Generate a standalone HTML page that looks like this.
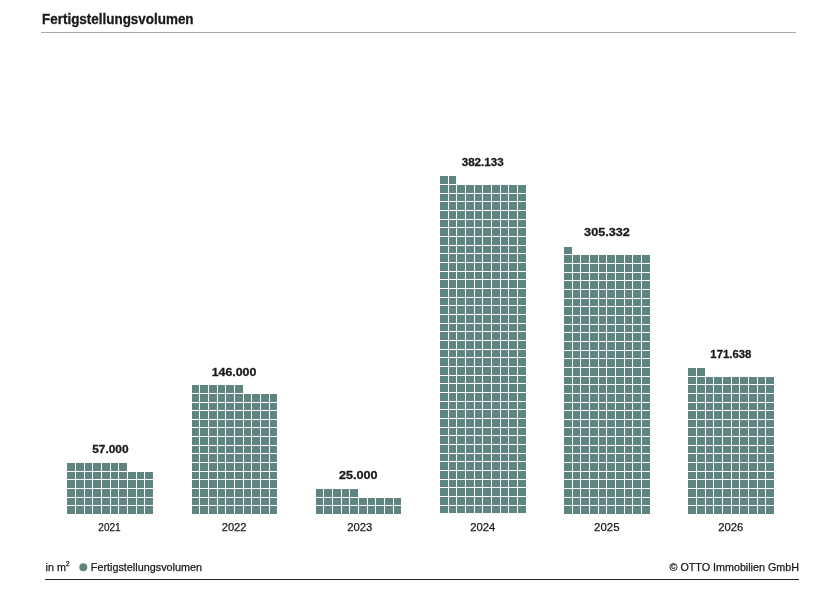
<!DOCTYPE html>
<html lang="de"><head><meta charset="utf-8"><title>Fertigstellungsvolumen</title>
<style>
html,body{margin:0;padding:0;background:#fff}
body{width:832px;height:610px;overflow:hidden}
svg{display:block}
text{font-family:"Liberation Sans",Arial,Helvetica,sans-serif;fill:#1a1a1a;stroke:#1a1a1a;stroke-width:.25px;stroke-linejoin:round}
.b{font-weight:bold;stroke-width:.3px}
.c rect{fill:#5f8580}
</style></head><body>
<svg width="832" height="610" viewBox="0 0 832 610">
<rect width="832" height="610" fill="#fff"/>
<text id="title" class="b" x="42.02" y="23.9" font-size="13.8" textLength="151.55" lengthAdjust="spacingAndGlyphs">Fertigstellungsvolumen</text>
<rect x="41" y="32" width="755" height="1" fill="#a9aaae"/>
<g class="c" shape-rendering="crispEdges">
<rect x="67" y="506" width="8" height="8"/><rect x="76" y="506" width="8" height="8"/><rect x="85" y="506" width="7" height="8"/><rect x="93" y="506" width="8" height="8"/><rect x="102" y="506" width="8" height="8"/><rect x="111" y="506" width="7" height="8"/><rect x="119" y="506" width="8" height="8"/><rect x="128" y="506" width="8" height="8"/><rect x="137" y="506" width="7" height="8"/><rect x="145" y="506" width="8" height="8"/>
<rect x="67" y="498" width="8" height="7"/><rect x="76" y="498" width="8" height="7"/><rect x="85" y="498" width="7" height="7"/><rect x="93" y="498" width="8" height="7"/><rect x="102" y="498" width="8" height="7"/><rect x="111" y="498" width="7" height="7"/><rect x="119" y="498" width="8" height="7"/><rect x="128" y="498" width="8" height="7"/><rect x="137" y="498" width="7" height="7"/><rect x="145" y="498" width="8" height="7"/>
<rect x="67" y="489" width="8" height="8"/><rect x="76" y="489" width="8" height="8"/><rect x="85" y="489" width="7" height="8"/><rect x="93" y="489" width="8" height="8"/><rect x="102" y="489" width="8" height="8"/><rect x="111" y="489" width="7" height="8"/><rect x="119" y="489" width="8" height="8"/><rect x="128" y="489" width="8" height="8"/><rect x="137" y="489" width="7" height="8"/><rect x="145" y="489" width="8" height="8"/>
<rect x="67" y="480" width="8" height="8"/><rect x="76" y="480" width="8" height="8"/><rect x="85" y="480" width="7" height="8"/><rect x="93" y="480" width="8" height="8"/><rect x="102" y="480" width="8" height="8"/><rect x="111" y="480" width="7" height="8"/><rect x="119" y="480" width="8" height="8"/><rect x="128" y="480" width="8" height="8"/><rect x="137" y="480" width="7" height="8"/><rect x="145" y="480" width="8" height="8"/>
<rect x="67" y="472" width="8" height="7"/><rect x="76" y="472" width="8" height="7"/><rect x="85" y="472" width="7" height="7"/><rect x="93" y="472" width="8" height="7"/><rect x="102" y="472" width="8" height="7"/><rect x="111" y="472" width="7" height="7"/><rect x="119" y="472" width="8" height="7"/><rect x="128" y="472" width="8" height="7"/><rect x="137" y="472" width="7" height="7"/><rect x="145" y="472" width="8" height="7"/>
<rect x="67" y="463" width="8" height="8"/><rect x="76" y="463" width="8" height="8"/><rect x="85" y="463" width="7" height="8"/><rect x="93" y="463" width="8" height="8"/><rect x="102" y="463" width="8" height="8"/><rect x="111" y="463" width="7" height="8"/><rect x="119" y="463" width="8" height="8"/>
<rect x="192" y="506" width="7" height="8"/><rect x="200" y="506" width="8" height="8"/><rect x="209" y="506" width="8" height="8"/><rect x="218" y="506" width="7" height="8"/><rect x="226" y="506" width="8" height="8"/><rect x="235" y="506" width="8" height="8"/><rect x="244" y="506" width="7" height="8"/><rect x="252" y="506" width="8" height="8"/><rect x="261" y="506" width="8" height="8"/><rect x="270" y="506" width="7" height="8"/>
<rect x="192" y="498" width="7" height="7"/><rect x="200" y="498" width="8" height="7"/><rect x="209" y="498" width="8" height="7"/><rect x="218" y="498" width="7" height="7"/><rect x="226" y="498" width="8" height="7"/><rect x="235" y="498" width="8" height="7"/><rect x="244" y="498" width="7" height="7"/><rect x="252" y="498" width="8" height="7"/><rect x="261" y="498" width="8" height="7"/><rect x="270" y="498" width="7" height="7"/>
<rect x="192" y="489" width="7" height="8"/><rect x="200" y="489" width="8" height="8"/><rect x="209" y="489" width="8" height="8"/><rect x="218" y="489" width="7" height="8"/><rect x="226" y="489" width="8" height="8"/><rect x="235" y="489" width="8" height="8"/><rect x="244" y="489" width="7" height="8"/><rect x="252" y="489" width="8" height="8"/><rect x="261" y="489" width="8" height="8"/><rect x="270" y="489" width="7" height="8"/>
<rect x="192" y="480" width="7" height="8"/><rect x="200" y="480" width="8" height="8"/><rect x="209" y="480" width="8" height="8"/><rect x="218" y="480" width="7" height="8"/><rect x="226" y="480" width="8" height="8"/><rect x="235" y="480" width="8" height="8"/><rect x="244" y="480" width="7" height="8"/><rect x="252" y="480" width="8" height="8"/><rect x="261" y="480" width="8" height="8"/><rect x="270" y="480" width="7" height="8"/>
<rect x="192" y="472" width="7" height="7"/><rect x="200" y="472" width="8" height="7"/><rect x="209" y="472" width="8" height="7"/><rect x="218" y="472" width="7" height="7"/><rect x="226" y="472" width="8" height="7"/><rect x="235" y="472" width="8" height="7"/><rect x="244" y="472" width="7" height="7"/><rect x="252" y="472" width="8" height="7"/><rect x="261" y="472" width="8" height="7"/><rect x="270" y="472" width="7" height="7"/>
<rect x="192" y="463" width="7" height="8"/><rect x="200" y="463" width="8" height="8"/><rect x="209" y="463" width="8" height="8"/><rect x="218" y="463" width="7" height="8"/><rect x="226" y="463" width="8" height="8"/><rect x="235" y="463" width="8" height="8"/><rect x="244" y="463" width="7" height="8"/><rect x="252" y="463" width="8" height="8"/><rect x="261" y="463" width="8" height="8"/><rect x="270" y="463" width="7" height="8"/>
<rect x="192" y="454" width="7" height="8"/><rect x="200" y="454" width="8" height="8"/><rect x="209" y="454" width="8" height="8"/><rect x="218" y="454" width="7" height="8"/><rect x="226" y="454" width="8" height="8"/><rect x="235" y="454" width="8" height="8"/><rect x="244" y="454" width="7" height="8"/><rect x="252" y="454" width="8" height="8"/><rect x="261" y="454" width="8" height="8"/><rect x="270" y="454" width="7" height="8"/>
<rect x="192" y="446" width="7" height="7"/><rect x="200" y="446" width="8" height="7"/><rect x="209" y="446" width="8" height="7"/><rect x="218" y="446" width="7" height="7"/><rect x="226" y="446" width="8" height="7"/><rect x="235" y="446" width="8" height="7"/><rect x="244" y="446" width="7" height="7"/><rect x="252" y="446" width="8" height="7"/><rect x="261" y="446" width="8" height="7"/><rect x="270" y="446" width="7" height="7"/>
<rect x="192" y="437" width="7" height="8"/><rect x="200" y="437" width="8" height="8"/><rect x="209" y="437" width="8" height="8"/><rect x="218" y="437" width="7" height="8"/><rect x="226" y="437" width="8" height="8"/><rect x="235" y="437" width="8" height="8"/><rect x="244" y="437" width="7" height="8"/><rect x="252" y="437" width="8" height="8"/><rect x="261" y="437" width="8" height="8"/><rect x="270" y="437" width="7" height="8"/>
<rect x="192" y="428" width="7" height="8"/><rect x="200" y="428" width="8" height="8"/><rect x="209" y="428" width="8" height="8"/><rect x="218" y="428" width="7" height="8"/><rect x="226" y="428" width="8" height="8"/><rect x="235" y="428" width="8" height="8"/><rect x="244" y="428" width="7" height="8"/><rect x="252" y="428" width="8" height="8"/><rect x="261" y="428" width="8" height="8"/><rect x="270" y="428" width="7" height="8"/>
<rect x="192" y="420" width="7" height="7"/><rect x="200" y="420" width="8" height="7"/><rect x="209" y="420" width="8" height="7"/><rect x="218" y="420" width="7" height="7"/><rect x="226" y="420" width="8" height="7"/><rect x="235" y="420" width="8" height="7"/><rect x="244" y="420" width="7" height="7"/><rect x="252" y="420" width="8" height="7"/><rect x="261" y="420" width="8" height="7"/><rect x="270" y="420" width="7" height="7"/>
<rect x="192" y="411" width="7" height="8"/><rect x="200" y="411" width="8" height="8"/><rect x="209" y="411" width="8" height="8"/><rect x="218" y="411" width="7" height="8"/><rect x="226" y="411" width="8" height="8"/><rect x="235" y="411" width="8" height="8"/><rect x="244" y="411" width="7" height="8"/><rect x="252" y="411" width="8" height="8"/><rect x="261" y="411" width="8" height="8"/><rect x="270" y="411" width="7" height="8"/>
<rect x="192" y="403" width="7" height="7"/><rect x="200" y="403" width="8" height="7"/><rect x="209" y="403" width="8" height="7"/><rect x="218" y="403" width="7" height="7"/><rect x="226" y="403" width="8" height="7"/><rect x="235" y="403" width="8" height="7"/><rect x="244" y="403" width="7" height="7"/><rect x="252" y="403" width="8" height="7"/><rect x="261" y="403" width="8" height="7"/><rect x="270" y="403" width="7" height="7"/>
<rect x="192" y="394" width="7" height="8"/><rect x="200" y="394" width="8" height="8"/><rect x="209" y="394" width="8" height="8"/><rect x="218" y="394" width="7" height="8"/><rect x="226" y="394" width="8" height="8"/><rect x="235" y="394" width="8" height="8"/><rect x="244" y="394" width="7" height="8"/><rect x="252" y="394" width="8" height="8"/><rect x="261" y="394" width="8" height="8"/><rect x="270" y="394" width="7" height="8"/>
<rect x="192" y="385" width="7" height="8"/><rect x="200" y="385" width="8" height="8"/><rect x="209" y="385" width="8" height="8"/><rect x="218" y="385" width="7" height="8"/><rect x="226" y="385" width="8" height="8"/><rect x="235" y="385" width="8" height="8"/>
<rect x="316" y="506" width="7" height="8"/><rect x="324" y="506" width="8" height="8"/><rect x="333" y="506" width="8" height="8"/><rect x="342" y="506" width="7" height="8"/><rect x="350" y="506" width="8" height="8"/><rect x="359" y="506" width="8" height="8"/><rect x="368" y="506" width="7" height="8"/><rect x="376" y="506" width="8" height="8"/><rect x="385" y="506" width="8" height="8"/><rect x="394" y="506" width="7" height="8"/>
<rect x="316" y="498" width="7" height="7"/><rect x="324" y="498" width="8" height="7"/><rect x="333" y="498" width="8" height="7"/><rect x="342" y="498" width="7" height="7"/><rect x="350" y="498" width="8" height="7"/><rect x="359" y="498" width="8" height="7"/><rect x="368" y="498" width="7" height="7"/><rect x="376" y="498" width="8" height="7"/><rect x="385" y="498" width="8" height="7"/><rect x="394" y="498" width="7" height="7"/>
<rect x="316" y="489" width="7" height="8"/><rect x="324" y="489" width="8" height="8"/><rect x="333" y="489" width="8" height="8"/><rect x="342" y="489" width="7" height="8"/><rect x="350" y="489" width="8" height="8"/>
<rect x="440" y="506" width="8" height="7"/><rect x="449" y="506" width="7" height="7"/><rect x="457" y="506" width="8" height="7"/><rect x="466" y="506" width="8" height="7"/><rect x="475" y="506" width="7" height="7"/><rect x="483" y="506" width="8" height="7"/><rect x="492" y="506" width="8" height="7"/><rect x="501" y="506" width="7" height="7"/><rect x="509" y="506" width="8" height="7"/><rect x="518" y="506" width="8" height="7"/>
<rect x="440" y="497" width="8" height="8"/><rect x="449" y="497" width="7" height="8"/><rect x="457" y="497" width="8" height="8"/><rect x="466" y="497" width="8" height="8"/><rect x="475" y="497" width="7" height="8"/><rect x="483" y="497" width="8" height="8"/><rect x="492" y="497" width="8" height="8"/><rect x="501" y="497" width="7" height="8"/><rect x="509" y="497" width="8" height="8"/><rect x="518" y="497" width="8" height="8"/>
<rect x="440" y="488" width="8" height="8"/><rect x="449" y="488" width="7" height="8"/><rect x="457" y="488" width="8" height="8"/><rect x="466" y="488" width="8" height="8"/><rect x="475" y="488" width="7" height="8"/><rect x="483" y="488" width="8" height="8"/><rect x="492" y="488" width="8" height="8"/><rect x="501" y="488" width="7" height="8"/><rect x="509" y="488" width="8" height="8"/><rect x="518" y="488" width="8" height="8"/>
<rect x="440" y="480" width="8" height="7"/><rect x="449" y="480" width="7" height="7"/><rect x="457" y="480" width="8" height="7"/><rect x="466" y="480" width="8" height="7"/><rect x="475" y="480" width="7" height="7"/><rect x="483" y="480" width="8" height="7"/><rect x="492" y="480" width="8" height="7"/><rect x="501" y="480" width="7" height="7"/><rect x="509" y="480" width="8" height="7"/><rect x="518" y="480" width="8" height="7"/>
<rect x="440" y="471" width="8" height="8"/><rect x="449" y="471" width="7" height="8"/><rect x="457" y="471" width="8" height="8"/><rect x="466" y="471" width="8" height="8"/><rect x="475" y="471" width="7" height="8"/><rect x="483" y="471" width="8" height="8"/><rect x="492" y="471" width="8" height="8"/><rect x="501" y="471" width="7" height="8"/><rect x="509" y="471" width="8" height="8"/><rect x="518" y="471" width="8" height="8"/>
<rect x="440" y="462" width="8" height="8"/><rect x="449" y="462" width="7" height="8"/><rect x="457" y="462" width="8" height="8"/><rect x="466" y="462" width="8" height="8"/><rect x="475" y="462" width="7" height="8"/><rect x="483" y="462" width="8" height="8"/><rect x="492" y="462" width="8" height="8"/><rect x="501" y="462" width="7" height="8"/><rect x="509" y="462" width="8" height="8"/><rect x="518" y="462" width="8" height="8"/>
<rect x="440" y="454" width="8" height="7"/><rect x="449" y="454" width="7" height="7"/><rect x="457" y="454" width="8" height="7"/><rect x="466" y="454" width="8" height="7"/><rect x="475" y="454" width="7" height="7"/><rect x="483" y="454" width="8" height="7"/><rect x="492" y="454" width="8" height="7"/><rect x="501" y="454" width="7" height="7"/><rect x="509" y="454" width="8" height="7"/><rect x="518" y="454" width="8" height="7"/>
<rect x="440" y="445" width="8" height="8"/><rect x="449" y="445" width="7" height="8"/><rect x="457" y="445" width="8" height="8"/><rect x="466" y="445" width="8" height="8"/><rect x="475" y="445" width="7" height="8"/><rect x="483" y="445" width="8" height="8"/><rect x="492" y="445" width="8" height="8"/><rect x="501" y="445" width="7" height="8"/><rect x="509" y="445" width="8" height="8"/><rect x="518" y="445" width="8" height="8"/>
<rect x="440" y="436" width="8" height="8"/><rect x="449" y="436" width="7" height="8"/><rect x="457" y="436" width="8" height="8"/><rect x="466" y="436" width="8" height="8"/><rect x="475" y="436" width="7" height="8"/><rect x="483" y="436" width="8" height="8"/><rect x="492" y="436" width="8" height="8"/><rect x="501" y="436" width="7" height="8"/><rect x="509" y="436" width="8" height="8"/><rect x="518" y="436" width="8" height="8"/>
<rect x="440" y="428" width="8" height="7"/><rect x="449" y="428" width="7" height="7"/><rect x="457" y="428" width="8" height="7"/><rect x="466" y="428" width="8" height="7"/><rect x="475" y="428" width="7" height="7"/><rect x="483" y="428" width="8" height="7"/><rect x="492" y="428" width="8" height="7"/><rect x="501" y="428" width="7" height="7"/><rect x="509" y="428" width="8" height="7"/><rect x="518" y="428" width="8" height="7"/>
<rect x="440" y="419" width="8" height="8"/><rect x="449" y="419" width="7" height="8"/><rect x="457" y="419" width="8" height="8"/><rect x="466" y="419" width="8" height="8"/><rect x="475" y="419" width="7" height="8"/><rect x="483" y="419" width="8" height="8"/><rect x="492" y="419" width="8" height="8"/><rect x="501" y="419" width="7" height="8"/><rect x="509" y="419" width="8" height="8"/><rect x="518" y="419" width="8" height="8"/>
<rect x="440" y="410" width="8" height="8"/><rect x="449" y="410" width="7" height="8"/><rect x="457" y="410" width="8" height="8"/><rect x="466" y="410" width="8" height="8"/><rect x="475" y="410" width="7" height="8"/><rect x="483" y="410" width="8" height="8"/><rect x="492" y="410" width="8" height="8"/><rect x="501" y="410" width="7" height="8"/><rect x="509" y="410" width="8" height="8"/><rect x="518" y="410" width="8" height="8"/>
<rect x="440" y="402" width="8" height="7"/><rect x="449" y="402" width="7" height="7"/><rect x="457" y="402" width="8" height="7"/><rect x="466" y="402" width="8" height="7"/><rect x="475" y="402" width="7" height="7"/><rect x="483" y="402" width="8" height="7"/><rect x="492" y="402" width="8" height="7"/><rect x="501" y="402" width="7" height="7"/><rect x="509" y="402" width="8" height="7"/><rect x="518" y="402" width="8" height="7"/>
<rect x="440" y="393" width="8" height="8"/><rect x="449" y="393" width="7" height="8"/><rect x="457" y="393" width="8" height="8"/><rect x="466" y="393" width="8" height="8"/><rect x="475" y="393" width="7" height="8"/><rect x="483" y="393" width="8" height="8"/><rect x="492" y="393" width="8" height="8"/><rect x="501" y="393" width="7" height="8"/><rect x="509" y="393" width="8" height="8"/><rect x="518" y="393" width="8" height="8"/>
<rect x="440" y="384" width="8" height="8"/><rect x="449" y="384" width="7" height="8"/><rect x="457" y="384" width="8" height="8"/><rect x="466" y="384" width="8" height="8"/><rect x="475" y="384" width="7" height="8"/><rect x="483" y="384" width="8" height="8"/><rect x="492" y="384" width="8" height="8"/><rect x="501" y="384" width="7" height="8"/><rect x="509" y="384" width="8" height="8"/><rect x="518" y="384" width="8" height="8"/>
<rect x="440" y="376" width="8" height="7"/><rect x="449" y="376" width="7" height="7"/><rect x="457" y="376" width="8" height="7"/><rect x="466" y="376" width="8" height="7"/><rect x="475" y="376" width="7" height="7"/><rect x="483" y="376" width="8" height="7"/><rect x="492" y="376" width="8" height="7"/><rect x="501" y="376" width="7" height="7"/><rect x="509" y="376" width="8" height="7"/><rect x="518" y="376" width="8" height="7"/>
<rect x="440" y="367" width="8" height="8"/><rect x="449" y="367" width="7" height="8"/><rect x="457" y="367" width="8" height="8"/><rect x="466" y="367" width="8" height="8"/><rect x="475" y="367" width="7" height="8"/><rect x="483" y="367" width="8" height="8"/><rect x="492" y="367" width="8" height="8"/><rect x="501" y="367" width="7" height="8"/><rect x="509" y="367" width="8" height="8"/><rect x="518" y="367" width="8" height="8"/>
<rect x="440" y="358" width="8" height="8"/><rect x="449" y="358" width="7" height="8"/><rect x="457" y="358" width="8" height="8"/><rect x="466" y="358" width="8" height="8"/><rect x="475" y="358" width="7" height="8"/><rect x="483" y="358" width="8" height="8"/><rect x="492" y="358" width="8" height="8"/><rect x="501" y="358" width="7" height="8"/><rect x="509" y="358" width="8" height="8"/><rect x="518" y="358" width="8" height="8"/>
<rect x="440" y="350" width="8" height="7"/><rect x="449" y="350" width="7" height="7"/><rect x="457" y="350" width="8" height="7"/><rect x="466" y="350" width="8" height="7"/><rect x="475" y="350" width="7" height="7"/><rect x="483" y="350" width="8" height="7"/><rect x="492" y="350" width="8" height="7"/><rect x="501" y="350" width="7" height="7"/><rect x="509" y="350" width="8" height="7"/><rect x="518" y="350" width="8" height="7"/>
<rect x="440" y="341" width="8" height="8"/><rect x="449" y="341" width="7" height="8"/><rect x="457" y="341" width="8" height="8"/><rect x="466" y="341" width="8" height="8"/><rect x="475" y="341" width="7" height="8"/><rect x="483" y="341" width="8" height="8"/><rect x="492" y="341" width="8" height="8"/><rect x="501" y="341" width="7" height="8"/><rect x="509" y="341" width="8" height="8"/><rect x="518" y="341" width="8" height="8"/>
<rect x="440" y="332" width="8" height="8"/><rect x="449" y="332" width="7" height="8"/><rect x="457" y="332" width="8" height="8"/><rect x="466" y="332" width="8" height="8"/><rect x="475" y="332" width="7" height="8"/><rect x="483" y="332" width="8" height="8"/><rect x="492" y="332" width="8" height="8"/><rect x="501" y="332" width="7" height="8"/><rect x="509" y="332" width="8" height="8"/><rect x="518" y="332" width="8" height="8"/>
<rect x="440" y="324" width="8" height="7"/><rect x="449" y="324" width="7" height="7"/><rect x="457" y="324" width="8" height="7"/><rect x="466" y="324" width="8" height="7"/><rect x="475" y="324" width="7" height="7"/><rect x="483" y="324" width="8" height="7"/><rect x="492" y="324" width="8" height="7"/><rect x="501" y="324" width="7" height="7"/><rect x="509" y="324" width="8" height="7"/><rect x="518" y="324" width="8" height="7"/>
<rect x="440" y="315" width="8" height="8"/><rect x="449" y="315" width="7" height="8"/><rect x="457" y="315" width="8" height="8"/><rect x="466" y="315" width="8" height="8"/><rect x="475" y="315" width="7" height="8"/><rect x="483" y="315" width="8" height="8"/><rect x="492" y="315" width="8" height="8"/><rect x="501" y="315" width="7" height="8"/><rect x="509" y="315" width="8" height="8"/><rect x="518" y="315" width="8" height="8"/>
<rect x="440" y="306" width="8" height="8"/><rect x="449" y="306" width="7" height="8"/><rect x="457" y="306" width="8" height="8"/><rect x="466" y="306" width="8" height="8"/><rect x="475" y="306" width="7" height="8"/><rect x="483" y="306" width="8" height="8"/><rect x="492" y="306" width="8" height="8"/><rect x="501" y="306" width="7" height="8"/><rect x="509" y="306" width="8" height="8"/><rect x="518" y="306" width="8" height="8"/>
<rect x="440" y="298" width="8" height="7"/><rect x="449" y="298" width="7" height="7"/><rect x="457" y="298" width="8" height="7"/><rect x="466" y="298" width="8" height="7"/><rect x="475" y="298" width="7" height="7"/><rect x="483" y="298" width="8" height="7"/><rect x="492" y="298" width="8" height="7"/><rect x="501" y="298" width="7" height="7"/><rect x="509" y="298" width="8" height="7"/><rect x="518" y="298" width="8" height="7"/>
<rect x="440" y="289" width="8" height="8"/><rect x="449" y="289" width="7" height="8"/><rect x="457" y="289" width="8" height="8"/><rect x="466" y="289" width="8" height="8"/><rect x="475" y="289" width="7" height="8"/><rect x="483" y="289" width="8" height="8"/><rect x="492" y="289" width="8" height="8"/><rect x="501" y="289" width="7" height="8"/><rect x="509" y="289" width="8" height="8"/><rect x="518" y="289" width="8" height="8"/>
<rect x="440" y="280" width="8" height="8"/><rect x="449" y="280" width="7" height="8"/><rect x="457" y="280" width="8" height="8"/><rect x="466" y="280" width="8" height="8"/><rect x="475" y="280" width="7" height="8"/><rect x="483" y="280" width="8" height="8"/><rect x="492" y="280" width="8" height="8"/><rect x="501" y="280" width="7" height="8"/><rect x="509" y="280" width="8" height="8"/><rect x="518" y="280" width="8" height="8"/>
<rect x="440" y="272" width="8" height="7"/><rect x="449" y="272" width="7" height="7"/><rect x="457" y="272" width="8" height="7"/><rect x="466" y="272" width="8" height="7"/><rect x="475" y="272" width="7" height="7"/><rect x="483" y="272" width="8" height="7"/><rect x="492" y="272" width="8" height="7"/><rect x="501" y="272" width="7" height="7"/><rect x="509" y="272" width="8" height="7"/><rect x="518" y="272" width="8" height="7"/>
<rect x="440" y="263" width="8" height="8"/><rect x="449" y="263" width="7" height="8"/><rect x="457" y="263" width="8" height="8"/><rect x="466" y="263" width="8" height="8"/><rect x="475" y="263" width="7" height="8"/><rect x="483" y="263" width="8" height="8"/><rect x="492" y="263" width="8" height="8"/><rect x="501" y="263" width="7" height="8"/><rect x="509" y="263" width="8" height="8"/><rect x="518" y="263" width="8" height="8"/>
<rect x="440" y="254" width="8" height="8"/><rect x="449" y="254" width="7" height="8"/><rect x="457" y="254" width="8" height="8"/><rect x="466" y="254" width="8" height="8"/><rect x="475" y="254" width="7" height="8"/><rect x="483" y="254" width="8" height="8"/><rect x="492" y="254" width="8" height="8"/><rect x="501" y="254" width="7" height="8"/><rect x="509" y="254" width="8" height="8"/><rect x="518" y="254" width="8" height="8"/>
<rect x="440" y="246" width="8" height="7"/><rect x="449" y="246" width="7" height="7"/><rect x="457" y="246" width="8" height="7"/><rect x="466" y="246" width="8" height="7"/><rect x="475" y="246" width="7" height="7"/><rect x="483" y="246" width="8" height="7"/><rect x="492" y="246" width="8" height="7"/><rect x="501" y="246" width="7" height="7"/><rect x="509" y="246" width="8" height="7"/><rect x="518" y="246" width="8" height="7"/>
<rect x="440" y="237" width="8" height="8"/><rect x="449" y="237" width="7" height="8"/><rect x="457" y="237" width="8" height="8"/><rect x="466" y="237" width="8" height="8"/><rect x="475" y="237" width="7" height="8"/><rect x="483" y="237" width="8" height="8"/><rect x="492" y="237" width="8" height="8"/><rect x="501" y="237" width="7" height="8"/><rect x="509" y="237" width="8" height="8"/><rect x="518" y="237" width="8" height="8"/>
<rect x="440" y="228" width="8" height="8"/><rect x="449" y="228" width="7" height="8"/><rect x="457" y="228" width="8" height="8"/><rect x="466" y="228" width="8" height="8"/><rect x="475" y="228" width="7" height="8"/><rect x="483" y="228" width="8" height="8"/><rect x="492" y="228" width="8" height="8"/><rect x="501" y="228" width="7" height="8"/><rect x="509" y="228" width="8" height="8"/><rect x="518" y="228" width="8" height="8"/>
<rect x="440" y="220" width="8" height="7"/><rect x="449" y="220" width="7" height="7"/><rect x="457" y="220" width="8" height="7"/><rect x="466" y="220" width="8" height="7"/><rect x="475" y="220" width="7" height="7"/><rect x="483" y="220" width="8" height="7"/><rect x="492" y="220" width="8" height="7"/><rect x="501" y="220" width="7" height="7"/><rect x="509" y="220" width="8" height="7"/><rect x="518" y="220" width="8" height="7"/>
<rect x="440" y="211" width="8" height="8"/><rect x="449" y="211" width="7" height="8"/><rect x="457" y="211" width="8" height="8"/><rect x="466" y="211" width="8" height="8"/><rect x="475" y="211" width="7" height="8"/><rect x="483" y="211" width="8" height="8"/><rect x="492" y="211" width="8" height="8"/><rect x="501" y="211" width="7" height="8"/><rect x="509" y="211" width="8" height="8"/><rect x="518" y="211" width="8" height="8"/>
<rect x="440" y="202" width="8" height="8"/><rect x="449" y="202" width="7" height="8"/><rect x="457" y="202" width="8" height="8"/><rect x="466" y="202" width="8" height="8"/><rect x="475" y="202" width="7" height="8"/><rect x="483" y="202" width="8" height="8"/><rect x="492" y="202" width="8" height="8"/><rect x="501" y="202" width="7" height="8"/><rect x="509" y="202" width="8" height="8"/><rect x="518" y="202" width="8" height="8"/>
<rect x="440" y="194" width="8" height="7"/><rect x="449" y="194" width="7" height="7"/><rect x="457" y="194" width="8" height="7"/><rect x="466" y="194" width="8" height="7"/><rect x="475" y="194" width="7" height="7"/><rect x="483" y="194" width="8" height="7"/><rect x="492" y="194" width="8" height="7"/><rect x="501" y="194" width="7" height="7"/><rect x="509" y="194" width="8" height="7"/><rect x="518" y="194" width="8" height="7"/>
<rect x="440" y="185" width="8" height="8"/><rect x="449" y="185" width="7" height="8"/><rect x="457" y="185" width="8" height="8"/><rect x="466" y="185" width="8" height="8"/><rect x="475" y="185" width="7" height="8"/><rect x="483" y="185" width="8" height="8"/><rect x="492" y="185" width="8" height="8"/><rect x="501" y="185" width="7" height="8"/><rect x="509" y="185" width="8" height="8"/><rect x="518" y="185" width="8" height="8"/>
<rect x="440" y="176" width="8" height="8"/><rect x="449" y="176" width="7" height="8"/>
<rect x="564" y="506" width="8" height="8"/><rect x="573" y="506" width="7" height="8"/><rect x="581" y="506" width="8" height="8"/><rect x="590" y="506" width="8" height="8"/><rect x="599" y="506" width="7" height="8"/><rect x="607" y="506" width="8" height="8"/><rect x="616" y="506" width="8" height="8"/><rect x="625" y="506" width="7" height="8"/><rect x="633" y="506" width="8" height="8"/><rect x="642" y="506" width="8" height="8"/>
<rect x="564" y="498" width="8" height="7"/><rect x="573" y="498" width="7" height="7"/><rect x="581" y="498" width="8" height="7"/><rect x="590" y="498" width="8" height="7"/><rect x="599" y="498" width="7" height="7"/><rect x="607" y="498" width="8" height="7"/><rect x="616" y="498" width="8" height="7"/><rect x="625" y="498" width="7" height="7"/><rect x="633" y="498" width="8" height="7"/><rect x="642" y="498" width="8" height="7"/>
<rect x="564" y="489" width="8" height="8"/><rect x="573" y="489" width="7" height="8"/><rect x="581" y="489" width="8" height="8"/><rect x="590" y="489" width="8" height="8"/><rect x="599" y="489" width="7" height="8"/><rect x="607" y="489" width="8" height="8"/><rect x="616" y="489" width="8" height="8"/><rect x="625" y="489" width="7" height="8"/><rect x="633" y="489" width="8" height="8"/><rect x="642" y="489" width="8" height="8"/>
<rect x="564" y="480" width="8" height="8"/><rect x="573" y="480" width="7" height="8"/><rect x="581" y="480" width="8" height="8"/><rect x="590" y="480" width="8" height="8"/><rect x="599" y="480" width="7" height="8"/><rect x="607" y="480" width="8" height="8"/><rect x="616" y="480" width="8" height="8"/><rect x="625" y="480" width="7" height="8"/><rect x="633" y="480" width="8" height="8"/><rect x="642" y="480" width="8" height="8"/>
<rect x="564" y="472" width="8" height="7"/><rect x="573" y="472" width="7" height="7"/><rect x="581" y="472" width="8" height="7"/><rect x="590" y="472" width="8" height="7"/><rect x="599" y="472" width="7" height="7"/><rect x="607" y="472" width="8" height="7"/><rect x="616" y="472" width="8" height="7"/><rect x="625" y="472" width="7" height="7"/><rect x="633" y="472" width="8" height="7"/><rect x="642" y="472" width="8" height="7"/>
<rect x="564" y="463" width="8" height="8"/><rect x="573" y="463" width="7" height="8"/><rect x="581" y="463" width="8" height="8"/><rect x="590" y="463" width="8" height="8"/><rect x="599" y="463" width="7" height="8"/><rect x="607" y="463" width="8" height="8"/><rect x="616" y="463" width="8" height="8"/><rect x="625" y="463" width="7" height="8"/><rect x="633" y="463" width="8" height="8"/><rect x="642" y="463" width="8" height="8"/>
<rect x="564" y="454" width="8" height="8"/><rect x="573" y="454" width="7" height="8"/><rect x="581" y="454" width="8" height="8"/><rect x="590" y="454" width="8" height="8"/><rect x="599" y="454" width="7" height="8"/><rect x="607" y="454" width="8" height="8"/><rect x="616" y="454" width="8" height="8"/><rect x="625" y="454" width="7" height="8"/><rect x="633" y="454" width="8" height="8"/><rect x="642" y="454" width="8" height="8"/>
<rect x="564" y="446" width="8" height="7"/><rect x="573" y="446" width="7" height="7"/><rect x="581" y="446" width="8" height="7"/><rect x="590" y="446" width="8" height="7"/><rect x="599" y="446" width="7" height="7"/><rect x="607" y="446" width="8" height="7"/><rect x="616" y="446" width="8" height="7"/><rect x="625" y="446" width="7" height="7"/><rect x="633" y="446" width="8" height="7"/><rect x="642" y="446" width="8" height="7"/>
<rect x="564" y="437" width="8" height="8"/><rect x="573" y="437" width="7" height="8"/><rect x="581" y="437" width="8" height="8"/><rect x="590" y="437" width="8" height="8"/><rect x="599" y="437" width="7" height="8"/><rect x="607" y="437" width="8" height="8"/><rect x="616" y="437" width="8" height="8"/><rect x="625" y="437" width="7" height="8"/><rect x="633" y="437" width="8" height="8"/><rect x="642" y="437" width="8" height="8"/>
<rect x="564" y="428" width="8" height="8"/><rect x="573" y="428" width="7" height="8"/><rect x="581" y="428" width="8" height="8"/><rect x="590" y="428" width="8" height="8"/><rect x="599" y="428" width="7" height="8"/><rect x="607" y="428" width="8" height="8"/><rect x="616" y="428" width="8" height="8"/><rect x="625" y="428" width="7" height="8"/><rect x="633" y="428" width="8" height="8"/><rect x="642" y="428" width="8" height="8"/>
<rect x="564" y="420" width="8" height="7"/><rect x="573" y="420" width="7" height="7"/><rect x="581" y="420" width="8" height="7"/><rect x="590" y="420" width="8" height="7"/><rect x="599" y="420" width="7" height="7"/><rect x="607" y="420" width="8" height="7"/><rect x="616" y="420" width="8" height="7"/><rect x="625" y="420" width="7" height="7"/><rect x="633" y="420" width="8" height="7"/><rect x="642" y="420" width="8" height="7"/>
<rect x="564" y="411" width="8" height="8"/><rect x="573" y="411" width="7" height="8"/><rect x="581" y="411" width="8" height="8"/><rect x="590" y="411" width="8" height="8"/><rect x="599" y="411" width="7" height="8"/><rect x="607" y="411" width="8" height="8"/><rect x="616" y="411" width="8" height="8"/><rect x="625" y="411" width="7" height="8"/><rect x="633" y="411" width="8" height="8"/><rect x="642" y="411" width="8" height="8"/>
<rect x="564" y="403" width="8" height="7"/><rect x="573" y="403" width="7" height="7"/><rect x="581" y="403" width="8" height="7"/><rect x="590" y="403" width="8" height="7"/><rect x="599" y="403" width="7" height="7"/><rect x="607" y="403" width="8" height="7"/><rect x="616" y="403" width="8" height="7"/><rect x="625" y="403" width="7" height="7"/><rect x="633" y="403" width="8" height="7"/><rect x="642" y="403" width="8" height="7"/>
<rect x="564" y="394" width="8" height="8"/><rect x="573" y="394" width="7" height="8"/><rect x="581" y="394" width="8" height="8"/><rect x="590" y="394" width="8" height="8"/><rect x="599" y="394" width="7" height="8"/><rect x="607" y="394" width="8" height="8"/><rect x="616" y="394" width="8" height="8"/><rect x="625" y="394" width="7" height="8"/><rect x="633" y="394" width="8" height="8"/><rect x="642" y="394" width="8" height="8"/>
<rect x="564" y="385" width="8" height="8"/><rect x="573" y="385" width="7" height="8"/><rect x="581" y="385" width="8" height="8"/><rect x="590" y="385" width="8" height="8"/><rect x="599" y="385" width="7" height="8"/><rect x="607" y="385" width="8" height="8"/><rect x="616" y="385" width="8" height="8"/><rect x="625" y="385" width="7" height="8"/><rect x="633" y="385" width="8" height="8"/><rect x="642" y="385" width="8" height="8"/>
<rect x="564" y="377" width="8" height="7"/><rect x="573" y="377" width="7" height="7"/><rect x="581" y="377" width="8" height="7"/><rect x="590" y="377" width="8" height="7"/><rect x="599" y="377" width="7" height="7"/><rect x="607" y="377" width="8" height="7"/><rect x="616" y="377" width="8" height="7"/><rect x="625" y="377" width="7" height="7"/><rect x="633" y="377" width="8" height="7"/><rect x="642" y="377" width="8" height="7"/>
<rect x="564" y="368" width="8" height="8"/><rect x="573" y="368" width="7" height="8"/><rect x="581" y="368" width="8" height="8"/><rect x="590" y="368" width="8" height="8"/><rect x="599" y="368" width="7" height="8"/><rect x="607" y="368" width="8" height="8"/><rect x="616" y="368" width="8" height="8"/><rect x="625" y="368" width="7" height="8"/><rect x="633" y="368" width="8" height="8"/><rect x="642" y="368" width="8" height="8"/>
<rect x="564" y="359" width="8" height="8"/><rect x="573" y="359" width="7" height="8"/><rect x="581" y="359" width="8" height="8"/><rect x="590" y="359" width="8" height="8"/><rect x="599" y="359" width="7" height="8"/><rect x="607" y="359" width="8" height="8"/><rect x="616" y="359" width="8" height="8"/><rect x="625" y="359" width="7" height="8"/><rect x="633" y="359" width="8" height="8"/><rect x="642" y="359" width="8" height="8"/>
<rect x="564" y="351" width="8" height="7"/><rect x="573" y="351" width="7" height="7"/><rect x="581" y="351" width="8" height="7"/><rect x="590" y="351" width="8" height="7"/><rect x="599" y="351" width="7" height="7"/><rect x="607" y="351" width="8" height="7"/><rect x="616" y="351" width="8" height="7"/><rect x="625" y="351" width="7" height="7"/><rect x="633" y="351" width="8" height="7"/><rect x="642" y="351" width="8" height="7"/>
<rect x="564" y="342" width="8" height="8"/><rect x="573" y="342" width="7" height="8"/><rect x="581" y="342" width="8" height="8"/><rect x="590" y="342" width="8" height="8"/><rect x="599" y="342" width="7" height="8"/><rect x="607" y="342" width="8" height="8"/><rect x="616" y="342" width="8" height="8"/><rect x="625" y="342" width="7" height="8"/><rect x="633" y="342" width="8" height="8"/><rect x="642" y="342" width="8" height="8"/>
<rect x="564" y="333" width="8" height="8"/><rect x="573" y="333" width="7" height="8"/><rect x="581" y="333" width="8" height="8"/><rect x="590" y="333" width="8" height="8"/><rect x="599" y="333" width="7" height="8"/><rect x="607" y="333" width="8" height="8"/><rect x="616" y="333" width="8" height="8"/><rect x="625" y="333" width="7" height="8"/><rect x="633" y="333" width="8" height="8"/><rect x="642" y="333" width="8" height="8"/>
<rect x="564" y="325" width="8" height="7"/><rect x="573" y="325" width="7" height="7"/><rect x="581" y="325" width="8" height="7"/><rect x="590" y="325" width="8" height="7"/><rect x="599" y="325" width="7" height="7"/><rect x="607" y="325" width="8" height="7"/><rect x="616" y="325" width="8" height="7"/><rect x="625" y="325" width="7" height="7"/><rect x="633" y="325" width="8" height="7"/><rect x="642" y="325" width="8" height="7"/>
<rect x="564" y="316" width="8" height="8"/><rect x="573" y="316" width="7" height="8"/><rect x="581" y="316" width="8" height="8"/><rect x="590" y="316" width="8" height="8"/><rect x="599" y="316" width="7" height="8"/><rect x="607" y="316" width="8" height="8"/><rect x="616" y="316" width="8" height="8"/><rect x="625" y="316" width="7" height="8"/><rect x="633" y="316" width="8" height="8"/><rect x="642" y="316" width="8" height="8"/>
<rect x="564" y="307" width="8" height="8"/><rect x="573" y="307" width="7" height="8"/><rect x="581" y="307" width="8" height="8"/><rect x="590" y="307" width="8" height="8"/><rect x="599" y="307" width="7" height="8"/><rect x="607" y="307" width="8" height="8"/><rect x="616" y="307" width="8" height="8"/><rect x="625" y="307" width="7" height="8"/><rect x="633" y="307" width="8" height="8"/><rect x="642" y="307" width="8" height="8"/>
<rect x="564" y="299" width="8" height="7"/><rect x="573" y="299" width="7" height="7"/><rect x="581" y="299" width="8" height="7"/><rect x="590" y="299" width="8" height="7"/><rect x="599" y="299" width="7" height="7"/><rect x="607" y="299" width="8" height="7"/><rect x="616" y="299" width="8" height="7"/><rect x="625" y="299" width="7" height="7"/><rect x="633" y="299" width="8" height="7"/><rect x="642" y="299" width="8" height="7"/>
<rect x="564" y="290" width="8" height="8"/><rect x="573" y="290" width="7" height="8"/><rect x="581" y="290" width="8" height="8"/><rect x="590" y="290" width="8" height="8"/><rect x="599" y="290" width="7" height="8"/><rect x="607" y="290" width="8" height="8"/><rect x="616" y="290" width="8" height="8"/><rect x="625" y="290" width="7" height="8"/><rect x="633" y="290" width="8" height="8"/><rect x="642" y="290" width="8" height="8"/>
<rect x="564" y="281" width="8" height="8"/><rect x="573" y="281" width="7" height="8"/><rect x="581" y="281" width="8" height="8"/><rect x="590" y="281" width="8" height="8"/><rect x="599" y="281" width="7" height="8"/><rect x="607" y="281" width="8" height="8"/><rect x="616" y="281" width="8" height="8"/><rect x="625" y="281" width="7" height="8"/><rect x="633" y="281" width="8" height="8"/><rect x="642" y="281" width="8" height="8"/>
<rect x="564" y="273" width="8" height="7"/><rect x="573" y="273" width="7" height="7"/><rect x="581" y="273" width="8" height="7"/><rect x="590" y="273" width="8" height="7"/><rect x="599" y="273" width="7" height="7"/><rect x="607" y="273" width="8" height="7"/><rect x="616" y="273" width="8" height="7"/><rect x="625" y="273" width="7" height="7"/><rect x="633" y="273" width="8" height="7"/><rect x="642" y="273" width="8" height="7"/>
<rect x="564" y="264" width="8" height="8"/><rect x="573" y="264" width="7" height="8"/><rect x="581" y="264" width="8" height="8"/><rect x="590" y="264" width="8" height="8"/><rect x="599" y="264" width="7" height="8"/><rect x="607" y="264" width="8" height="8"/><rect x="616" y="264" width="8" height="8"/><rect x="625" y="264" width="7" height="8"/><rect x="633" y="264" width="8" height="8"/><rect x="642" y="264" width="8" height="8"/>
<rect x="564" y="255" width="8" height="8"/><rect x="573" y="255" width="7" height="8"/><rect x="581" y="255" width="8" height="8"/><rect x="590" y="255" width="8" height="8"/><rect x="599" y="255" width="7" height="8"/><rect x="607" y="255" width="8" height="8"/><rect x="616" y="255" width="8" height="8"/><rect x="625" y="255" width="7" height="8"/><rect x="633" y="255" width="8" height="8"/><rect x="642" y="255" width="8" height="8"/>
<rect x="564" y="247" width="8" height="7"/>
<rect x="688" y="506" width="8" height="8"/><rect x="697" y="506" width="8" height="8"/><rect x="706" y="506" width="7" height="8"/><rect x="714" y="506" width="8" height="8"/><rect x="723" y="506" width="8" height="8"/><rect x="732" y="506" width="7" height="8"/><rect x="740" y="506" width="8" height="8"/><rect x="749" y="506" width="8" height="8"/><rect x="758" y="506" width="7" height="8"/><rect x="766" y="506" width="8" height="8"/>
<rect x="688" y="498" width="8" height="7"/><rect x="697" y="498" width="8" height="7"/><rect x="706" y="498" width="7" height="7"/><rect x="714" y="498" width="8" height="7"/><rect x="723" y="498" width="8" height="7"/><rect x="732" y="498" width="7" height="7"/><rect x="740" y="498" width="8" height="7"/><rect x="749" y="498" width="8" height="7"/><rect x="758" y="498" width="7" height="7"/><rect x="766" y="498" width="8" height="7"/>
<rect x="688" y="489" width="8" height="8"/><rect x="697" y="489" width="8" height="8"/><rect x="706" y="489" width="7" height="8"/><rect x="714" y="489" width="8" height="8"/><rect x="723" y="489" width="8" height="8"/><rect x="732" y="489" width="7" height="8"/><rect x="740" y="489" width="8" height="8"/><rect x="749" y="489" width="8" height="8"/><rect x="758" y="489" width="7" height="8"/><rect x="766" y="489" width="8" height="8"/>
<rect x="688" y="480" width="8" height="8"/><rect x="697" y="480" width="8" height="8"/><rect x="706" y="480" width="7" height="8"/><rect x="714" y="480" width="8" height="8"/><rect x="723" y="480" width="8" height="8"/><rect x="732" y="480" width="7" height="8"/><rect x="740" y="480" width="8" height="8"/><rect x="749" y="480" width="8" height="8"/><rect x="758" y="480" width="7" height="8"/><rect x="766" y="480" width="8" height="8"/>
<rect x="688" y="472" width="8" height="7"/><rect x="697" y="472" width="8" height="7"/><rect x="706" y="472" width="7" height="7"/><rect x="714" y="472" width="8" height="7"/><rect x="723" y="472" width="8" height="7"/><rect x="732" y="472" width="7" height="7"/><rect x="740" y="472" width="8" height="7"/><rect x="749" y="472" width="8" height="7"/><rect x="758" y="472" width="7" height="7"/><rect x="766" y="472" width="8" height="7"/>
<rect x="688" y="463" width="8" height="8"/><rect x="697" y="463" width="8" height="8"/><rect x="706" y="463" width="7" height="8"/><rect x="714" y="463" width="8" height="8"/><rect x="723" y="463" width="8" height="8"/><rect x="732" y="463" width="7" height="8"/><rect x="740" y="463" width="8" height="8"/><rect x="749" y="463" width="8" height="8"/><rect x="758" y="463" width="7" height="8"/><rect x="766" y="463" width="8" height="8"/>
<rect x="688" y="454" width="8" height="8"/><rect x="697" y="454" width="8" height="8"/><rect x="706" y="454" width="7" height="8"/><rect x="714" y="454" width="8" height="8"/><rect x="723" y="454" width="8" height="8"/><rect x="732" y="454" width="7" height="8"/><rect x="740" y="454" width="8" height="8"/><rect x="749" y="454" width="8" height="8"/><rect x="758" y="454" width="7" height="8"/><rect x="766" y="454" width="8" height="8"/>
<rect x="688" y="446" width="8" height="7"/><rect x="697" y="446" width="8" height="7"/><rect x="706" y="446" width="7" height="7"/><rect x="714" y="446" width="8" height="7"/><rect x="723" y="446" width="8" height="7"/><rect x="732" y="446" width="7" height="7"/><rect x="740" y="446" width="8" height="7"/><rect x="749" y="446" width="8" height="7"/><rect x="758" y="446" width="7" height="7"/><rect x="766" y="446" width="8" height="7"/>
<rect x="688" y="437" width="8" height="8"/><rect x="697" y="437" width="8" height="8"/><rect x="706" y="437" width="7" height="8"/><rect x="714" y="437" width="8" height="8"/><rect x="723" y="437" width="8" height="8"/><rect x="732" y="437" width="7" height="8"/><rect x="740" y="437" width="8" height="8"/><rect x="749" y="437" width="8" height="8"/><rect x="758" y="437" width="7" height="8"/><rect x="766" y="437" width="8" height="8"/>
<rect x="688" y="428" width="8" height="8"/><rect x="697" y="428" width="8" height="8"/><rect x="706" y="428" width="7" height="8"/><rect x="714" y="428" width="8" height="8"/><rect x="723" y="428" width="8" height="8"/><rect x="732" y="428" width="7" height="8"/><rect x="740" y="428" width="8" height="8"/><rect x="749" y="428" width="8" height="8"/><rect x="758" y="428" width="7" height="8"/><rect x="766" y="428" width="8" height="8"/>
<rect x="688" y="420" width="8" height="7"/><rect x="697" y="420" width="8" height="7"/><rect x="706" y="420" width="7" height="7"/><rect x="714" y="420" width="8" height="7"/><rect x="723" y="420" width="8" height="7"/><rect x="732" y="420" width="7" height="7"/><rect x="740" y="420" width="8" height="7"/><rect x="749" y="420" width="8" height="7"/><rect x="758" y="420" width="7" height="7"/><rect x="766" y="420" width="8" height="7"/>
<rect x="688" y="411" width="8" height="8"/><rect x="697" y="411" width="8" height="8"/><rect x="706" y="411" width="7" height="8"/><rect x="714" y="411" width="8" height="8"/><rect x="723" y="411" width="8" height="8"/><rect x="732" y="411" width="7" height="8"/><rect x="740" y="411" width="8" height="8"/><rect x="749" y="411" width="8" height="8"/><rect x="758" y="411" width="7" height="8"/><rect x="766" y="411" width="8" height="8"/>
<rect x="688" y="403" width="8" height="7"/><rect x="697" y="403" width="8" height="7"/><rect x="706" y="403" width="7" height="7"/><rect x="714" y="403" width="8" height="7"/><rect x="723" y="403" width="8" height="7"/><rect x="732" y="403" width="7" height="7"/><rect x="740" y="403" width="8" height="7"/><rect x="749" y="403" width="8" height="7"/><rect x="758" y="403" width="7" height="7"/><rect x="766" y="403" width="8" height="7"/>
<rect x="688" y="394" width="8" height="8"/><rect x="697" y="394" width="8" height="8"/><rect x="706" y="394" width="7" height="8"/><rect x="714" y="394" width="8" height="8"/><rect x="723" y="394" width="8" height="8"/><rect x="732" y="394" width="7" height="8"/><rect x="740" y="394" width="8" height="8"/><rect x="749" y="394" width="8" height="8"/><rect x="758" y="394" width="7" height="8"/><rect x="766" y="394" width="8" height="8"/>
<rect x="688" y="385" width="8" height="8"/><rect x="697" y="385" width="8" height="8"/><rect x="706" y="385" width="7" height="8"/><rect x="714" y="385" width="8" height="8"/><rect x="723" y="385" width="8" height="8"/><rect x="732" y="385" width="7" height="8"/><rect x="740" y="385" width="8" height="8"/><rect x="749" y="385" width="8" height="8"/><rect x="758" y="385" width="7" height="8"/><rect x="766" y="385" width="8" height="8"/>
<rect x="688" y="377" width="8" height="7"/><rect x="697" y="377" width="8" height="7"/><rect x="706" y="377" width="7" height="7"/><rect x="714" y="377" width="8" height="7"/><rect x="723" y="377" width="8" height="7"/><rect x="732" y="377" width="7" height="7"/><rect x="740" y="377" width="8" height="7"/><rect x="749" y="377" width="8" height="7"/><rect x="758" y="377" width="7" height="7"/><rect x="766" y="377" width="8" height="7"/>
<rect x="688" y="368" width="8" height="8"/><rect x="697" y="368" width="8" height="8"/>
</g>
<text id="lab0" class="b" x="92.21" y="452.9" font-size="11" textLength="36.35" lengthAdjust="spacingAndGlyphs">57.000</text>
<text id="yr0" x="98.30" y="530.9" font-size="11" textLength="22.34" lengthAdjust="spacingAndGlyphs">2021</text>
<text id="lab1" class="b" x="211.66" y="375.7" font-size="11" textLength="44.72" lengthAdjust="spacingAndGlyphs">146.000</text>
<text id="yr1" x="221.69" y="530.9" font-size="11" textLength="24.86" lengthAdjust="spacingAndGlyphs">2022</text>
<text id="lab2" class="b" x="339.07" y="478.9" font-size="11" textLength="38.47" lengthAdjust="spacingAndGlyphs">25.000</text>
<text id="yr2" x="347.25" y="530.9" font-size="11" textLength="25.14" lengthAdjust="spacingAndGlyphs">2023</text>
<text id="lab3" class="b" x="461.69" y="165.7" font-size="11" textLength="42.01" lengthAdjust="spacingAndGlyphs">382.133</text>
<text id="yr3" x="470.15" y="530.9" font-size="11" textLength="25.05" lengthAdjust="spacingAndGlyphs">2024</text>
<text id="lab4" class="b" x="584.12" y="235.7" font-size="11" textLength="45.71" lengthAdjust="spacingAndGlyphs">305.332</text>
<text id="yr4" x="594.14" y="530.9" font-size="11" textLength="25.49" lengthAdjust="spacingAndGlyphs">2025</text>
<text id="lab5" class="b" x="710.37" y="357.7" font-size="11" textLength="41.00" lengthAdjust="spacingAndGlyphs">171.638</text>
<text id="yr5" x="718.23" y="530.9" font-size="11" textLength="25.07" lengthAdjust="spacingAndGlyphs">2026</text>
<text id="unit" x="45.5" y="570.9" font-size="10.8">in m<tspan font-size="6.5" dy="-5">2</tspan></text>
<circle cx="83.3" cy="567.25" r="4" fill="#5f8580"/>
<text id="leg" x="90.80" y="570.9" font-size="10.8" textLength="111.22" lengthAdjust="spacingAndGlyphs">Fertigstellungsvolumen</text>
<text id="copy" x="669.53" y="570.9" font-size="10.8" textLength="129.46" lengthAdjust="spacingAndGlyphs">© OTTO Immobilien GmbH</text>
<rect x="45" y="579" width="754" height="1" fill="#231f20"/>
</svg>
</body></html>
